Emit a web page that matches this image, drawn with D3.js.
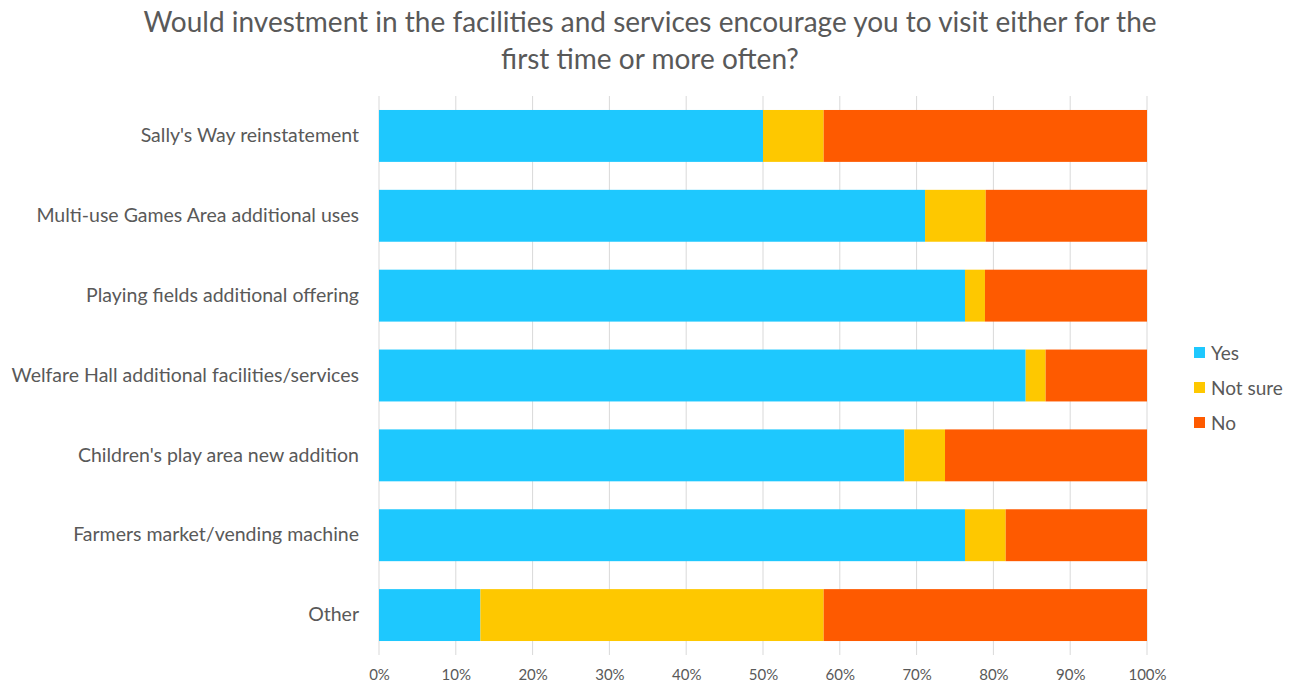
<!DOCTYPE html>
<html>
<head>
<meta charset="utf-8">
<script src="https://cdn.jsdelivr.net/npm/d3@7"></script>
<style>
  html, body { margin: 0; padding: 0; background: #fff; }
  svg text { font-family: Lato, "Open Sans", sans-serif; fill: #595959; }
</style>
</head>
<body>
<svg id="chart" width="1298" height="686"></svg>
<script>
// Survey responses, percent of respondents
const categories = [
  "Sally's Way reinstatement",
  "Multi-use Games Area additional uses",
  "Playing fields additional offering",
  "Welfare Hall additional facilities/services",
  "Children's play area new addition",
  "Farmers market/vending machine",
  "Other"
];
const yesValues     = [50.0, 71.1, 76.3, 84.2, 68.4, 76.3, 13.2];
const notSureValues = [7.9, 7.9, 2.6, 2.6, 5.3, 5.3, 44.7];
const noValues      = [42.1, 21.0, 21.1, 13.2, 26.3, 18.4, 42.1];
const seriesNames = ["Yes", "Not sure", "No"];
const seriesColors = ["#1ec8fe", "#fec800", "#fe5a00"];
const tickValues = [0, 10, 20, 30, 40, 50, 60, 70, 80, 90, 100];

const rows = categories.map((c, i) => ({
  category: c,
  "Yes": yesValues[i],
  "Not sure": notSureValues[i],
  "No": noValues[i]
}));

const svg = d3.select("#chart");
const margin = { left: 379, right: 151, top: 96, bottom: 31 };
const W = 1298, H = 686;

const x = d3.scaleLinear().domain([0, 100]).range([margin.left, W - margin.right]);
const y = d3.scaleBand().domain(categories).range([margin.top, H - margin.bottom]).paddingInner(0.35).paddingOuter(0.175);
const color = d3.scaleOrdinal().domain(seriesNames).range(seriesColors);

// Title
svg.append("text")
  .attr("x", 650).attr("y", 0)
  .attr("text-anchor", "middle")
  .style("font-size", "28px")
  .selectAll("tspan")
  .data(["Would investment in the facilities and services encourage you to visit either for the", "first time or more often?"])
  .join("tspan")
  .attr("x", 650)
  .attr("y", (d, i) => 32 + i * 37)
  .text(d => d);

// Gridlines
svg.append("g")
  .selectAll("line")
  .data(tickValues)
  .join("line")
  .attr("x1", d => x(d)).attr("x2", d => x(d))
  .attr("y1", margin.top).attr("y2", H - margin.bottom)
  .attr("stroke", "#d9d9d9").attr("stroke-width", 1);

// Stacked bars
const stack = d3.stack().keys(seriesNames);
const layers = stack(rows);
svg.append("g")
  .selectAll("g")
  .data(layers)
  .join("g")
  .attr("fill", d => color(d.key))
  .selectAll("rect")
  .data(d => d)
  .join("rect")
  .attr("x", d => x(d[0]))
  .attr("width", d => x(Math.min(d[1], 100)) - x(d[0]))
  .attr("y", d => y(d.data.category))
  .attr("height", y.bandwidth());

// X axis
const xAxis = svg.append("g")
  .attr("transform", `translate(0,${H - margin.bottom})`)
  .call(d3.axisBottom(x).tickValues(tickValues).tickFormat(d => d + "%").tickSize(0).tickPadding(14));
xAxis.select(".domain").remove();
xAxis.selectAll("text").style("font-size", "15px").style("font-family", "Lato, sans-serif").attr("fill", "#595959");

// Y axis labels
const yAxis = svg.append("g")
  .attr("transform", `translate(${margin.left},0)`)
  .call(d3.axisLeft(y).tickSize(0).tickPadding(20));
yAxis.select(".domain").remove();
yAxis.selectAll("text").style("font-size", "19.5px").style("font-family", "Lato, sans-serif").attr("fill", "#595959");

// Legend
const legend = svg.append("g")
  .selectAll("g")
  .data(seriesNames)
  .join("g")
  .attr("transform", (d, i) => `translate(1194,${353 + i * 35})`);
legend.append("rect")
  .attr("x", 0).attr("y", -6).attr("width", 11).attr("height", 11)
  .attr("fill", d => color(d));
legend.append("text")
  .attr("x", 17).attr("y", 0).attr("dy", "0.35em")
  .style("font-size", "19px")
  .text(d => d);
</script>
</body>
</html>
